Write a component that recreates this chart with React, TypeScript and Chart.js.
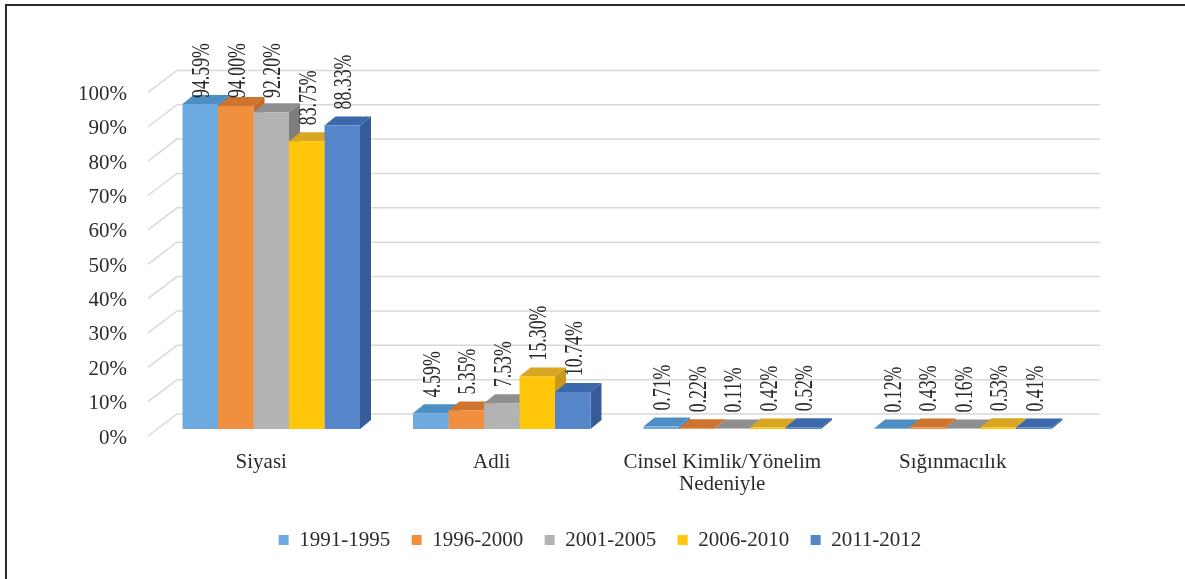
import React, { useEffect, useRef } from 'react';
import { Chart, registerables } from 'chart.js';

Chart.register(...registerables);

// ---- data ----
const categories: (string | string[])[] = ['Siyasi', 'Adli', ['Cinsel Kimlik/Yönelim', 'Nedeniyle'], 'Sığınmacılık'];
const seriesNames = ['1991-1995', '1996-2000', '2001-2005', '2006-2010', '2011-2012'];
const s1991_1995 = [94.59, 4.59, 0.71, 0.12];
const s1996_2000 = [94.0, 5.35, 0.22, 0.43];
const s2001_2005 = [92.2, 7.53, 0.11, 0.16];
const s2006_2010 = [83.75, 15.3, 0.42, 0.53];
const s2011_2012 = [88.33, 10.74, 0.52, 0.41];
const yTickValues = [0, 10, 20, 30, 40, 50, 60, 70, 80, 90, 100];

// ---- styles ----
const frontColors = ['#6caae0', '#f0903e', '#b3b3b3', '#ffc60a', '#5685c9'];
const topColors = ['#4d8ec5', '#cf742f', '#8f8f8f', '#d9a623', '#3d68ac'];
const sideColors = ['#4a84b8', '#c46a28', '#7d7d7d', '#c89a1c', '#355c99'];
const FONT = '"Liberation Serif", "Times New Roman", serif';
const TEXT = '#2b2b2b';
const DX = 11;
const DY = -9;

const depthPlugin = {
  id: 'depth3d',
  beforeDraw(chart: any) {
    const ctx = chart.ctx;
    ctx.save();
    ctx.strokeStyle = '#2a2a2a';
    ctx.lineWidth = 2;
    ctx.beginPath();
    ctx.moveTo(6, 579);
    ctx.lineTo(6, 5);
    ctx.lineTo(1185, 5);
    ctx.stroke();
    ctx.restore();
  },
  beforeDatasetsDraw(chart: any) {
    const ctx = chart.ctx;
    const { left, right } = chart.chartArea;
    const ys = chart.scales.y;
    ctx.save();
    ctx.strokeStyle = '#d9d9d9';
    ctx.lineWidth = 1.5;
    for (const v of yTickValues) {
      const py = ys.getPixelForValue(v);
      ctx.beginPath();
      ctx.moveTo(left - 8, py + 7);
      ctx.lineTo(left + 21, py - 15);
      ctx.lineTo(right + 22, py - 15);
      ctx.stroke();
    }
    const n = chart.data.labels.length;
    for (let i = 0; i < n; i++) {
      for (let d = 0; d < chart.data.datasets.length; d++) {
        const el = chart.getDatasetMeta(d).data[i];
        if (!el) continue;
        const { x, y, base, width } = el.getProps(['x', 'y', 'base', 'width'], true);
        const x0 = x - width / 2;
        const x1 = x + width / 2;
        ctx.fillStyle = sideColors[d];
        ctx.beginPath();
        ctx.moveTo(x1, y);
        ctx.lineTo(x1 + DX, y + DY);
        ctx.lineTo(x1 + DX, base + DY);
        ctx.lineTo(x1, base);
        ctx.closePath();
        ctx.fill();
        ctx.fillStyle = topColors[d];
        ctx.beginPath();
        ctx.moveTo(x0, y);
        ctx.lineTo(x1, y);
        ctx.lineTo(x1 + DX, y + DY);
        ctx.lineTo(x0 + DX, y + DY);
        ctx.closePath();
        ctx.fill();
      }
    }
    ctx.restore();
  },
  afterDatasetsDraw(chart: any) {
    const ctx = chart.ctx;
    const top = chart.chartArea.top;
    ctx.save();
    ctx.font = '20px ' + FONT;
    ctx.fillStyle = TEXT;
    ctx.textAlign = 'left';
    ctx.textBaseline = 'middle';
    chart.data.datasets.forEach((ds: any, d: number) => {
      const meta = chart.getDatasetMeta(d);
      meta.data.forEach((el: any, i: number) => {
        const val = ds.data[i] as number;
        const text = val.toFixed(2) + '%';
        let by = el.y - 16;
        by = Math.max(by, top + 12.6);
        ctx.save();
        ctx.translate(el.x + 2.5, by);
        ctx.rotate(-Math.PI / 2);
        ctx.scale(0.89, 1.25);
        ctx.fillText(text, 0, 0);
        ctx.restore();
      });
    });
    ctx.restore();
  },
};

export default function App() {
  const ref = useRef<HTMLCanvasElement | null>(null);
  useEffect(() => {
    if (!ref.current) return;
    const series = [s1991_1995, s1996_2000, s2001_2005, s2006_2010, s2011_2012];
    const chart = new Chart(ref.current, {
      type: 'bar',
      data: {
        labels: categories as any,
        datasets: series.map((s, d) => ({
          label: seriesNames[d],
          data: s,
          backgroundColor: frontColors[d],
          borderWidth: 0,
          categoryPercentage: 0.77,
          barPercentage: 1.0,
        })),
      },
      options: {
        responsive: true,
        maintainAspectRatio: false,
        animation: false,
        layout: { padding: { left: 15, right: 0, top: 85.4, bottom: 18.5 } },
        plugins: {
          tooltip: { enabled: false },
          legend: {
            position: 'bottom',
            labels: {
              boxWidth: 10,
              boxHeight: 10,
              padding: 21.5,
              color: TEXT,
              font: { family: FONT, size: 21 },
            },
          },
        },
        scales: {
          x: {
            grid: { display: false, drawTicks: false },
            border: { display: false },
            ticks: {
              color: TEXT,
              font: { family: FONT, size: 21, lineHeight: 1.05 },
              padding: 22,
              labelOffset: -10,
              maxRotation: 0,
              autoSkip: false,
            },
            afterFit: (s: any) => {
              s.height = 79;
            },
          },
          y: {
            min: 0,
            max: 100,
            grid: { display: false, drawTicks: false },
            border: { display: false },
            ticks: {
              stepSize: 10,
              color: TEXT,
              font: { family: FONT, size: 21 },
              padding: 29,
              labelOffset: 9,
              callback: (v: any) => v + '%',
            },
            afterFit: (s: any) => {
              s.width = 141;
            },
          },
          y2: {
            type: 'linear',
            position: 'right',
            display: true,
            grid: { display: false, drawTicks: false },
            border: { display: false },
            ticks: { display: false },
            afterFit: (s: any) => {
              s.width = 107;
            },
          },
        },
      } as any,
      plugins: [depthPlugin],
    });
    return () => chart.destroy();
  }, []);
  return (
    <div style={{ position: 'absolute', left: 0, top: 0, width: 1185, height: 579, background: '#fff' }}>
      <canvas ref={ref} />
    </div>
  );
}
